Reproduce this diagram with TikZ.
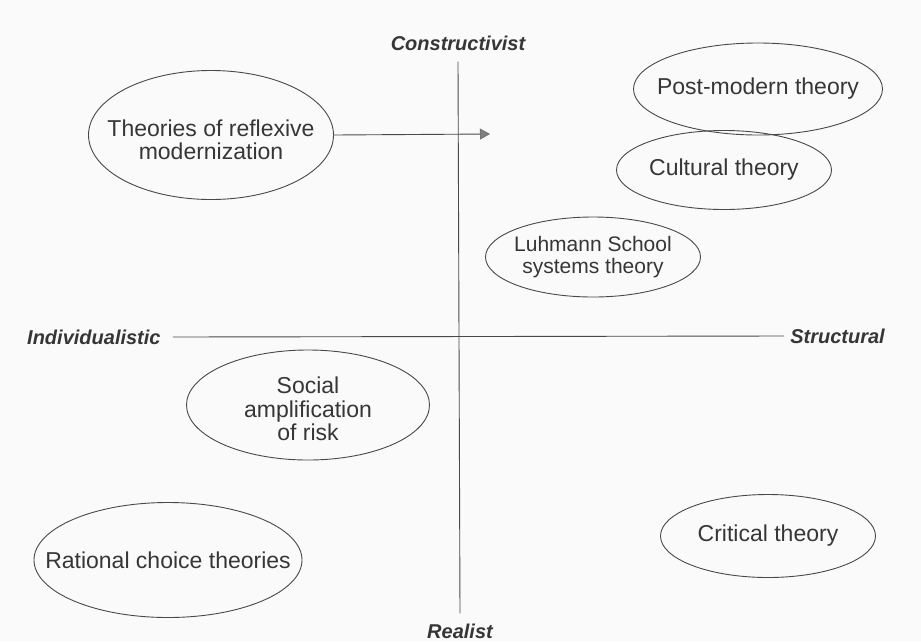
\documentclass[tikz,border=0pt]{standalone}
\usepackage{fontspec}
\setmainfont{Liberation Sans}
\usepackage{xcolor}
\usepackage{tikz}
\usetikzlibrary{shapes.geometric,arrows.meta}
\definecolor{inkGray}{HTML}{363636}
\definecolor{lineGray}{HTML}{484848}

\tikzset{
    theory/.style={ellipse, draw=lineGray, line width=0.9pt, inner sep=0pt},
    theorytext/.style={inner sep=0pt, align=center, text=inkGray, font=\fontsize{23}{23.5}\selectfont},
    axislabel/.style={inner sep=0pt, text=inkGray, font=\fontsize{20}{20}\selectfont\bfseries\itshape},
    axisline/.style={draw=lineGray, line width=0.9pt}
}

\begin{document}
\begin{tikzpicture}[x=1pt, y=-1pt]
                \fill[black!2] (0, 0) rectangle (921, 641);
                \useasboundingbox (0, 0) rectangle (921, 641);
                % axes
                \node[axislabel] (constr) at (458, 43) {Constructivist};
                \node[axislabel] (realist) at (460, 631) {Realist};
                \node[axislabel, anchor=west] (indiv) at (27, 337) {Individualistic};
                \node[axislabel, anchor=east] (struct) at (885, 336) {Structural};
                \draw[axisline] ([yshift=-11pt]constr.south) -- ([yshift=10pt]realist.north);
                \draw[axisline] ([xshift=12pt]indiv.east) -- ([xshift=-6pt]struct.west);
                % theories
                \node[theory, minimum width=245, minimum height=129, label={[theorytext, yshift=-5pt]center:Theories of reflexive\\modernization}] (reflexive) at (211, 135) {};
                \node[theory, minimum width=249, minimum height=92, label={[theorytext]center:Post-modern theory}] (postmodern) at (758, 89) {};
                \node[theory, minimum width=215, minimum height=79, label={[theorytext]center:Cultural theory}] (cultural) at (724, 170) {};
                \node[theory, minimum width=215, minimum height=80, label={[theorytext, font=\fontsize{21}{22.7}\selectfont]center:Luhmann School\\systems theory}] (luhmann) at (593, 257) {};
                \node[theory, minimum width=243, minimum height=110, label={[theorytext, yshift=-4pt]center:Social\\amplification\\of risk}] (social) at (308, 405) {};
                \node[theory, minimum width=268, minimum height=115, label={[theorytext]center:Rational choice theories}] (rational) at (168, 560) {};
                \node[theory, minimum width=215, minimum height=83, label={[theorytext]center:Critical theory}] (critical) at (768, 536) {};
                % shift arrow
                \coordinate (shiftEnd) at (490, 134);
                \draw[axisline, -{Triangle[length=10pt, width=11pt, fill=black!50, color=black!55]}] (reflexive.east) -- (shiftEnd);
            \end{tikzpicture}
\end{document}
